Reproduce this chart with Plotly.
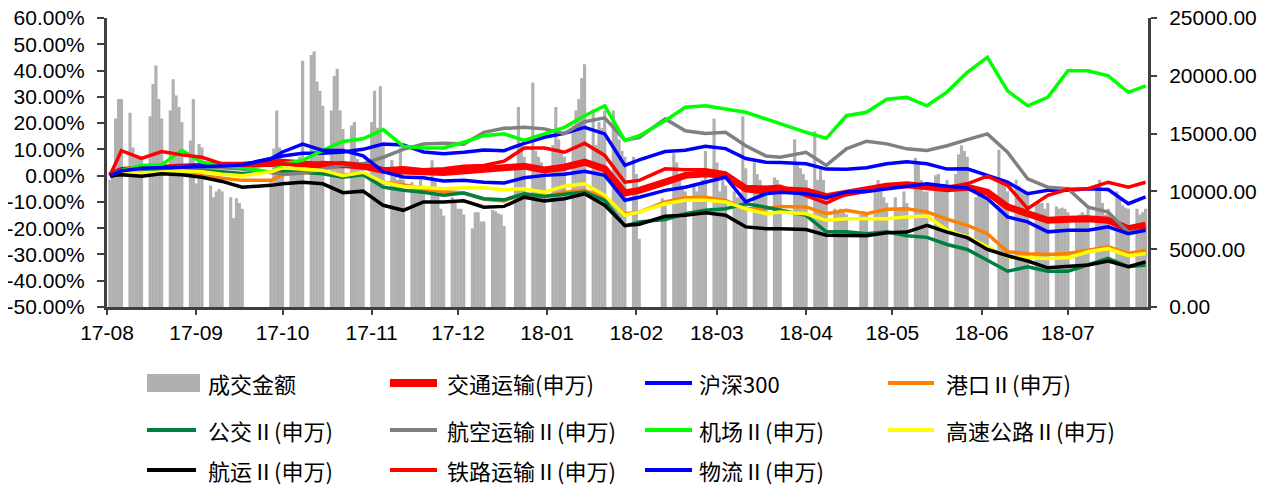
"""
交通运输各子行业走势与成交金额
"""
import plotly.graph_objects as go
import pandas as pd

# 交易日历（剔除节假日）
holidays = ['2017-10-02', '2017-10-03', '2017-10-04', '2017-10-05', '2017-10-06',
            '2018-01-01', '2018-02-15', '2018-02-16', '2018-02-19', '2018-02-20',
            '2018-02-21', '2018-04-05', '2018-04-06', '2018-04-30', '2018-05-01',
            '2018-06-18']
trade_days = pd.bdate_range('2017-08-14', '2018-08-09', freq='C', holidays=holidays)

# 成交金额（按月）
vol_aug17 = [11000, 11500, 16300, 18000, 18000, 16800, 13800, 12900, 13000, 12800, 16500, 19300, 20900, 18000]
vol_sep17 = [16300, 17000, 19700, 18300, 17300, 16000, 14400, 18000, 10700, 14100, 13800, 10500, 9500, 10000,
             10200, 10000, 9500, 7700, 9400, 9000, 8500]
vol_oct17 = [11000, 13700, 17000, 13800, 12000, 12500, 12000, 12500, 13000, 21300, 21800, 22100, 19500, 18700,
             17400, 17000, 20000]
vol_nov17 = [20600, 17000, 15400, 15700, 16000, 12800, 12500, 12000, 16000, 18700, 15500, 19100, 14000, 12700,
             11500, 11000, 13800, 11000, 10800, 10500, 10500, 11000]
vol_dec17 = [10500, 12700, 11000, 9600, 8500, 7900, 9500, 9000, 8500, 8500, 8000, 6800, 8200, 8200, 7400, 7400,
             8400, 8300, 8100, 8000, 7000]
vol_jan18 = [12000, 17300, 14000, 13000, 19400, 13500, 13000, 12500, 12000, 14000, 17300, 14500, 13500, 13000,
             15700, 17000, 18000, 19800, 21000, 17100, 14000, 16000]
vol_feb18 = [15500, 17000, 17000, 15700, 14500, 13500, 13000, 13000, 11500, 5900, 9400, 9000, 13300, 12500, 11000]
vol_mar18 = [10500, 10000, 10500, 10000, 10500, 11000, 13500, 16300, 12500, 10000, 11000, 10500, 10000, 9500,
             9500, 16500, 12000, 12500, 11500, 11000, 10500, 10500]
vol_apr18 = [11200, 11000, 10500, 14500, 12500, 12000, 11500, 11000, 15200, 11000, 12000, 11000, 9400, 8500,
             8300, 8500, 8200, 8000]
vol_may18 = [8000, 8300, 8000, 10000, 11000, 10000, 9500, 9000, 9500, 8500, 8500, 10000, 9000, 12900, 12500,
             11000, 10000, 10000, 11400, 11500, 10500, 10000]
vol_jun18 = [11000, 11500, 13200, 14000, 13500, 13000, 9500, 9800, 10000, 9500, 9500, 13600, 11000, 10500,
             10000, 11000, 10500, 10000, 10000, 10000]
vol_jul18 = [9000, 9000, 9000, 8500, 9000, 8700, 8500, 8600, 8500, 8200, 7500, 8000, 8200, 8000, 8500, 10300,
             11000, 9000, 8000, 8500, 10000, 9500]
vol_aug18 = [8800, 8600, 8500, 8500, 8000, 8200, 8500]

volume = (vol_aug17 + vol_sep17 + vol_oct17 + vol_nov17 + vol_dec17 + vol_jan18 + vol_feb18
          + vol_mar18 + vol_apr18 + vol_may18 + vol_jun18 + vol_jul18 + vol_aug18)

# 指数涨跌幅（%，周度取点）
line_dates = ['2017-08-14', '2017-08-18', '2017-08-25', '2017-09-01', '2017-09-08', '2017-09-15',
              '2017-09-22', '2017-09-29', '2017-10-09', '2017-10-13', '2017-10-20', '2017-10-27',
              '2017-11-03', '2017-11-10', '2017-11-17', '2017-11-24', '2017-12-01', '2017-12-08',
              '2017-12-15', '2017-12-22', '2017-12-29', '2018-01-05', '2018-01-12', '2018-01-19',
              '2018-01-26', '2018-02-02', '2018-02-09', '2018-02-14', '2018-02-23', '2018-03-02',
              '2018-03-09', '2018-03-16', '2018-03-23', '2018-03-30', '2018-04-04', '2018-04-13',
              '2018-04-20', '2018-04-27', '2018-05-04', '2018-05-11', '2018-05-18', '2018-05-25',
              '2018-06-01', '2018-06-08', '2018-06-15', '2018-06-22', '2018-06-29', '2018-07-06',
              '2018-07-13', '2018-07-20', '2018-07-27', '2018-08-03', '2018-08-09']

jiaotong = [0, 2, 2.5, 3, 3.5, 4, 4, 4, 5, 5.1, 4.5, 3.9, 4.2, 3.6, 2, 2, 1.5, 1.2, 1.9, 2.6,
            3.2, 3.6, 2.2, 3.2, 5.1, 2.6, -6.6, -5.6, -2.5, 0.1, 0.7, 0.1, -5, -5.9, -5.4, -5.8, -8, -6.5, -5.5, -4,
            -3.5, -4, -5, -4.4, -6.3, -11.9, -14.5, -17, -16.6, -16.4, -17, -20.2, -18.9]
hs300 = [0, 2.2, 3, 3.2, 3.3, 3.6, 4, 4.2, 6.5, 7.5, 8.5, 8.5, 9, 10, 12, 11.7, 9, 8.3, 8.9, 9.8,
         9.5, 12.3, 14.6, 16.1, 18.4, 15.9, 3.9, 6, 9.2, 9.7, 11.2, 10.3, 6.5, 5.1, 5, 4.5, 2.5, 2.4, 3, 4.5,
         5.3, 4.5, 2.5, 2.6, 0.1, -2.5, -6.9, -5.6, -5.6, -5, -5.3, -10.7, -8.1]
gangkou = [0, 1.3, 0.7, 1.5, 1.5, 0, -1, -1.8, -1.8, 0.3, 1.1, 1.3, 0.3, 0.7, -2.5, -3.5, -5, -6, -6.6, -9,
           -9.6, -6.9, -7.9, -6.3, -5.6, -8.4, -14.5, -13.9, -10, -8.4, -8.2, -9.4, -12.6, -12.6, -11.7, -11.9,
           -14.5, -13.2, -14.5, -12.8, -12.6, -13.8, -16.6, -18.9, -22.1, -29, -29.7, -30, -29.6, -28.4,
           -27.1, -29.6, -28.4]
gongjiao = [0, 1.5, 1.5, 2, 2, 2, 1.5, 0.8, 1.5, 1.7, 1.3, 0.7, -0.6, 0.3, -4.4, -5.6, -6.3, -7.5, -6.6, -8.8,
            -9.2, -6.9, -7.9, -6.9, -6.2, -9.4, -19.2, -17.6, -16.7, -14.5, -13.2, -12.6, -10.7, -12, -13, -15.1,
            -21.4, -21.4, -22.1, -21.4, -22.9, -23.5, -26.2, -28.1, -32.2, -36.4, -34.7, -36.4, -36.4, -34,
            -31.5, -34.7, -34]
hangkong = [0, 1.5, 2.5, 3, 3.5, 3, 3, 2.5, 1, 0.5, 1, 2.5, 4, 4.5, 7, 10, 12, 12.3, 12, 16.5,
            18, 18.4, 17.8, 16, 20.5, 22, 13.5, 14.5, 21.6, 17.1, 16, 16.5, 11.4, 7.5, 7, 8.9, 3.9, 10.2, 13.1, 12.1,
            10.2, 9.6, 11.4, 13.7, 15.9, 8.9, -1.2, -4.4, -5, -12, -13.9, -21.5, -20.8]
jichang = [0, 2, 3.9, 4.1, 9.6, 5.1, 3.9, 3.2, 1.3, 4.5, 5.8, 9.6, 13, 14, 17.5, 11.2, 10.5, 10.5, 12.7, 15.2,
           15.9, 13.4, 15.9, 18.4, 22.8, 26.6, 13.4, 15.2, 20.9, 26, 26.6, 25.4, 24.1, 21.6, 19.7, 16.5, 14.2,
           22.8, 24.1, 29.1, 29.8, 26.6, 31.9, 39.3, 45, 32.3, 26.6, 29.8, 39.9, 39.9, 38, 31.7, 34.2]
gaosu = [0, 1, 1, 1.5, 1.8, 1.5, 0.5, 0, 1.5, 3, 2.6, 2, 0, 1.3, -2.5, -4.1, -4.5, -5, -4.6, -4.6,
         -5.4, -5, -6.3, -4, -3.1, -7.5, -15.1, -13.9, -10.7, -9.4, -9.4, -10, -12.6, -14.5, -13.8, -14.5, -17,
         -16.4, -16.4, -16.4, -15.7, -15.4, -20.8, -23.3, -27.1, -30.9, -31.3, -31.5, -31.3, -29, -27.8, -30.5, -29.6]
hangyun = [0, 0.3, -0.2, 0.7, 0.3, -0.6, -2.2, -4.4, -3.7, -3.1, -2.5, -3.1, -6.5, -5.9, -11.3, -13.2, -10, -10,
           -9.6, -12, -11.7, -8.2, -9.6, -8.8, -6.9, -11.3, -19, -18.5, -15.5, -15.1, -14.1, -15.1, -19.5, -20.2,
           -20.2, -20.5, -22.7, -22.7, -22.9, -21.7, -21.5, -18.9, -21.5, -23.6, -28.1, -30.5, -32.5, -35.1,
           -34.7, -34, -32.5, -34.7, -32.8]
tielu = [0, 9.5, 6.6, 9.2, 7.9, 7, 4.5, 3.9, 4, 4.5, 4, 5, 4.5, 4, 2.5, 3, 2.2, 2.6, 3.6, 3.9,
         5.5, 10.5, 10.5, 8.9, 12.3, 7.7, -2.5, -1.8, 2.6, 2.2, 2.2, 1, -4.1, -4.4, -4, -7.5, -10.5, -7, -5.5, -4.5,
         -3.5, -3.5, -4.5, -3.1, -0.2, -3.7, -12.6, -7.5, -5.2, -5, -2.5, -4.4, -2.5]
wuliu = [0, 1.8, 2.8, 3, 3, 3.3, 3.7, 4, 6.4, 9, 12, 9.6, 9.6, 7.5, 1.5, -0.5, -0.8, -2, -1.8, -2.5,
         -2.8, -0.8, 0.1, 0.5, 1.7, 0.1, -9.4, -8.2, -5.6, -4.4, -2.5, -0.6, -10, -6.9, -6.3, -6.9, -8.2, -6.2,
         -6, -5, -4, -3.1, -4, -4.7, -8.8, -15.7, -17.6, -21.4, -20.8, -20.8, -19.5, -22.1, -20.8]

# 坐标轴刻度
month_ticks = ['2017-08-13', '2017-09-13', '2017-10-13', '2017-11-13', '2017-12-13', '2018-01-13',
               '2018-02-13', '2018-03-13', '2018-04-13', '2018-05-13', '2018-06-13', '2018-07-13']
month_labels = ['17-08', '17-09', '17-10', '17-11', '17-12', '18-01',
                '18-02', '18-03', '18-04', '18-05', '18-06', '18-07']
pct_ticks = [-50, -40, -30, -20, -10, 0, 10, 20, 30, 40, 50, 60]
vol_ticks = [0, 5000, 10000, 15000, 20000, 25000]

series = [
    ('交通运输(申万)', jiaotong, '#FF0000', 7),
    ('沪深300', hs300, '#0000FF', 3.5),
    ('港口Ⅱ(申万)', gangkou, '#FF8000', 3.5),
    ('公交Ⅱ(申万)', gongjiao, '#008040', 3.5),
    ('航空运输Ⅱ(申万)', hangkong, '#808080', 3.5),
    ('机场Ⅱ(申万)', jichang, '#00FF00', 3.5),
    ('高速公路Ⅱ(申万)', gaosu, '#FFFF00', 3.5),
    ('航运Ⅱ(申万)', hangyun, '#000000', 3.5),
    ('铁路运输Ⅱ(申万)', tielu, '#FF0000', 3.5),
    ('物流Ⅱ(申万)', wuliu, '#0000FF', 3.5),
]

BAR_COLOR = '#B0B0B0'
AXIS_COLOR = '#404040'
TICK_FONT = dict(family='Liberation Sans, Arial', size=21, color='black')
LEG_FONT = dict(family='Noto Sans CJK SC', size=22, color='black')

# 页面默认留白 8px，图宽高相应缩小
PAGE_PAD = 8
FIG_W, FIG_H = 1270 - PAGE_PAD, 488 - PAGE_PAD
# 绘图区在页面中的像素位置
L, R, T, B = 107, 1148, 18, 307


def px_x(px):
    return (px - L) / (R - L)


def px_y(py):
    return (B - py) / (B - T)


fig = go.Figure()

fig.add_trace(go.Bar(
    x=trade_days, y=volume, name='成交金额', yaxis='y',
    marker=dict(color=BAR_COLOR, line=dict(width=0)),
    width=1.1 * 86400000, showlegend=False,
))

for name, vals, color, w in series:
    fig.add_trace(go.Scatter(
        x=line_dates, y=vals, name=name, yaxis='y2', mode='lines',
        line=dict(color=color, width=w), showlegend=False,
    ))

# 手绘图例
legend_rows = [383, 430, 470]
legend_cols = [(147, 196, 206), (390, 437, 445), (645, 692, 697), (888, 934, 944)]
legend_items = [('成交金额', BAR_COLOR, 0)] + [(s[0], s[2], 8 if s[3] > 5 else 4) for s in series]

shapes = []
annotations = []
for i, (name, color, w) in enumerate(legend_items):
    row, col = divmod(i, 4)
    x0, x1, xt = legend_cols[col]
    yy = legend_rows[row]
    if w == 0:
        shapes.append(dict(type='rect', xref='paper', yref='paper',
                           x0=px_x(147), x1=px_x(200), y0=px_y(yy - 9), y1=px_y(yy + 9),
                           fillcolor=color, line=dict(width=0)))
    else:
        shapes.append(dict(type='line', xref='paper', yref='paper',
                           x0=px_x(x0), x1=px_x(x1), y0=px_y(yy), y1=px_y(yy),
                           line=dict(color=color, width=w)))
    annotations.append(dict(text=name, xref='paper', yref='paper', x=px_x(xt), y=px_y(yy),
                            xanchor='left', yanchor='middle', showarrow=False, font=LEG_FONT))

fig.update_layout(
    width=FIG_W, height=FIG_H,
    margin=dict(l=L - PAGE_PAD, r=FIG_W - (R - PAGE_PAD), t=T - PAGE_PAD, b=FIG_H - (B - PAGE_PAD),
                autoexpand=False),
    paper_bgcolor='white', plot_bgcolor='white',
    xaxis=dict(
        type='date', range=['2017-08-13', '2018-08-09 20:00'],
        tickmode='array', tickvals=month_ticks, ticktext=month_labels,
        ticks='outside', ticklen=5, tickwidth=2, tickcolor=AXIS_COLOR,
        showline=True, linecolor=AXIS_COLOR, linewidth=3, automargin=False,
        showgrid=False, zeroline=False, tickfont=TICK_FONT, ticklabeloverflow='allow',
    ),
    yaxis=dict(
        side='right', range=[0, 25000], automargin=False,
        tickmode='array', tickvals=vol_ticks, ticktext=[f'{v:.2f}' for v in vol_ticks],
        ticks='outside', ticklen=6, tickwidth=2, tickcolor=AXIS_COLOR,
        showline=True, linecolor=AXIS_COLOR, linewidth=3, ticklabeloverflow='allow',
        showgrid=False, zeroline=False, tickfont=TICK_FONT, ticklabelstandoff=8,
    ),
    yaxis2=dict(
        side='left', overlaying='y', range=[-50, 60], automargin=False,
        tickmode='array', tickvals=pct_ticks, ticktext=[f'{v:.2f}%' for v in pct_ticks],
        ticks='outside', ticklen=7, tickwidth=2, tickcolor=AXIS_COLOR,
        showline=True, linecolor=AXIS_COLOR, linewidth=3, ticklabeloverflow='allow',
        showgrid=False, zeroline=False, tickfont=TICK_FONT, ticklabelstandoff=8,
    ),
    shapes=shapes,
    annotations=annotations,
    showlegend=False,
)

fig.write_html("out.html")
